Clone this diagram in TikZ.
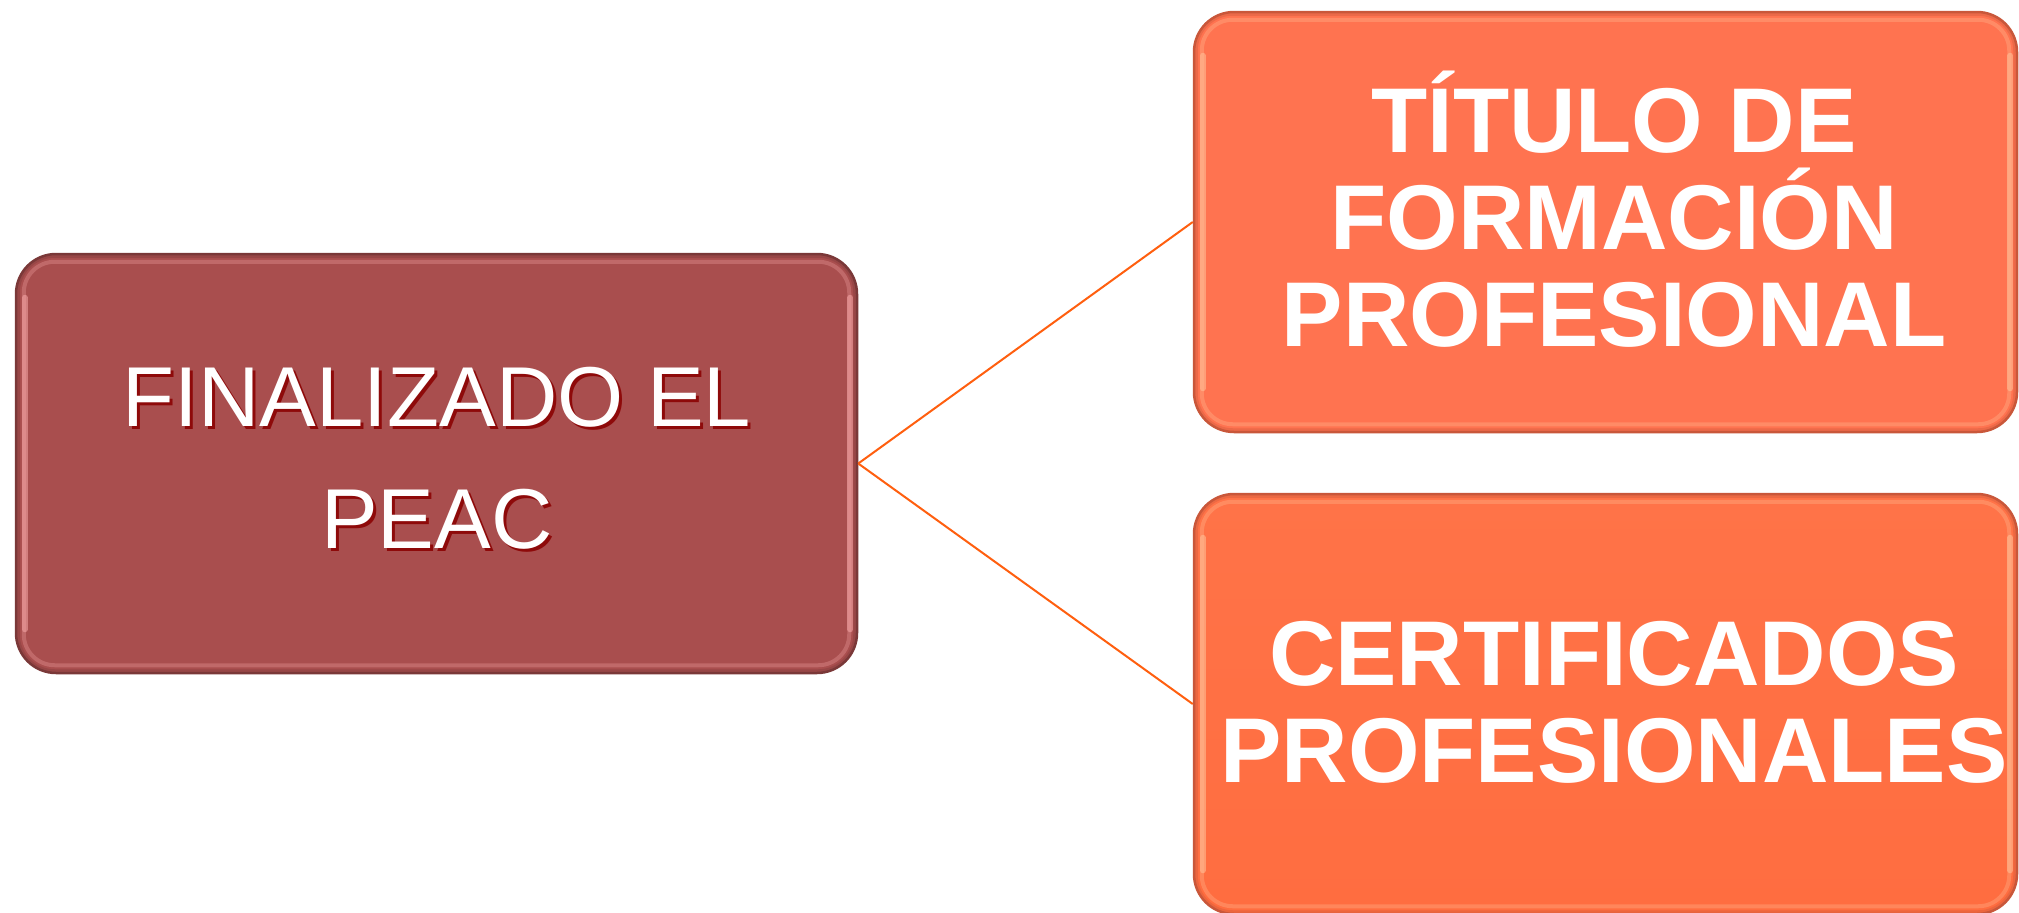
\documentclass[tikz,border=0pt]{standalone}
\usepackage{fontspec}
\setmainfont{Liberation Sans}
\usetikzlibrary{calc}
\definecolor{leftfill}{HTML}{A94E4E}
\definecolor{leftedge}{HTML}{7A3838}
\definecolor{lefthi}{HTML}{F7A8A8}
\definecolor{shadowred}{HTML}{8E0A0A}
\definecolor{topfill}{HTML}{FF7350}
\definecolor{orangeedge}{HTML}{C9573A}
\definecolor{orangehi}{HTML}{FFC39A}
\definecolor{botTop}{HTML}{FF7348}
\definecolor{botMid}{HTML}{FF720A}
\definecolor{botBot}{HTML}{FF6D40}
\definecolor{linkorange}{HTML}{FF5F0F}
\newcommand{\shtxt}[1]{\leavevmode\rlap{\kern3pt\smash{\raisebox{-3pt}{\textcolor{shadowred}{#1}}}}#1}
\begin{document}
\begin{tikzpicture}[x=1pt,y=-1pt,
  boxbase/.style={rectangle, rounded corners=40pt, line width=2.5pt, inner sep=0pt},
  hilite/.style={line width=4pt, rounded corners=31pt, opacity=0.3},
  sidehi/.style={line width=6pt, line cap=round, opacity=0.55},
  innershade/.style={line width=4pt, rounded corners=37pt, opacity=0.35},
  lefttext/.style={text=white, align=center, inner sep=0pt, font=\fontsize{85pt}{122pt}\selectfont},
  righttext/.style={text=white, align=center, inner sep=0pt, font=\bfseries\fontsize{92pt}{97pt}\selectfont},
  link/.style={draw=linkorange, line width=2pt}]
\fill[white] (0,0) rectangle (2019,913);
\useasboundingbox (0,0) rectangle (2019,913);
% boxes
\node[boxbase, fill=leftfill, draw=leftedge, minimum width=841pt, minimum height=419pt] (peac) at (436.5,463.5) {};
\node[boxbase, fill=topfill, draw=orangeedge, minimum width=823pt, minimum height=420pt] (titulo) at (1605.5,222) {};
\node[boxbase, top color=botTop, middle color=botMid, bottom color=botBot, draw=orangeedge, minimum width=823pt, minimum height=420pt] (cert) at (1605.5,704) {};
% bevel effects
\foreach \b/\e/\h in {peac/leftedge/lefthi, titulo/orangeedge/orangehi, cert/orangeedge/orangehi}{
  \draw[innershade, \e] ($(\b.north west)+(3,3)$) rectangle ($(\b.south east)+(-3,-3)$);
  \draw[hilite, \h] ($(\b.north west)+(9,9)$) rectangle ($(\b.south east)+(-9,-9)$);
  \draw[sidehi, \h] ($(\b.north west)+(10,45)$) -- ($(\b.south west)+(10,-45)$);
  \draw[sidehi, \h] ($(\b.north east)+(-8,45)$) -- ($(\b.south east)+(-8,-45)$);
}
% connectors
\draw[link] (peac.east) -- (titulo.west);
\draw[link] (peac.east) -- (cert.west);
% texts
\node[lefttext] (peactext) at (437,458.5) {\shtxt{FINALIZADO EL}\\\shtxt{PEAC}};
\node[righttext] (titulotext) at (1614,218) {T\smash{Í}TULO DE\\FORMACI\smash{Ó}N\\PROFESIONAL};
\node[righttext] (certtext) at (1614,702.5) {CERTIFICADOS\\PROFESIONALES};
\end{tikzpicture}
\end{document}
